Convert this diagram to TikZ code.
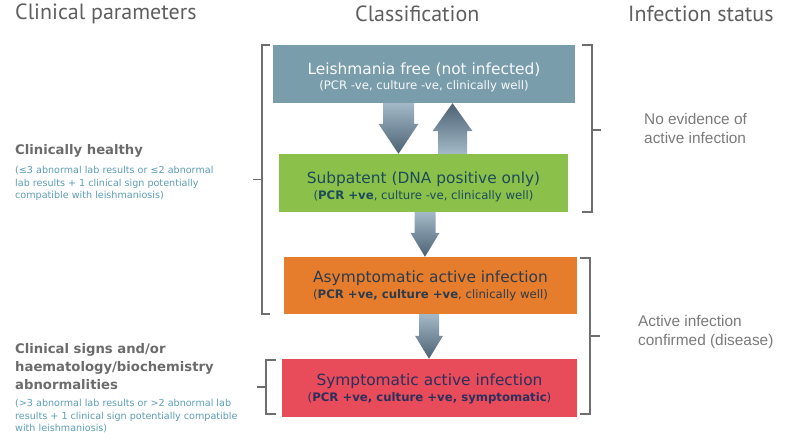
\documentclass[tikz,border=0pt]{standalone}
\usepackage{fontspec}
\setmainfont{DejaVu Sans}
\newfontfamily\headfont{PT Sans}
\newfontfamily\statusfont{Liberation Sans}
\usetikzlibrary{calc}

\definecolor{freeblue}{HTML}{7A9DAC}
\definecolor{subgreen}{HTML}{8BC14A}
\definecolor{asymorange}{HTML}{E67D2D}
\definecolor{symred}{HTML}{E84B5A}
\definecolor{subtext}{HTML}{1D4B5A}
\definecolor{asymtext}{HTML}{2E3B4A}
\definecolor{symtext}{HTML}{2C2F5C}
\definecolor{headgray}{HTML}{5F5F5F}
\definecolor{titlegray}{HTML}{6B6B6B}
\definecolor{noteblue}{HTML}{5B9DB8}
\definecolor{statusgray}{HTML}{7A7A7A}
\definecolor{bracketgray}{HTML}{6E6E6E}
\definecolor{arrowlight}{HTML}{A3B9C7}
\definecolor{arrowdark}{HTML}{4C6274}

\tikzset{
  classbox/.style={minimum height=58pt,inner sep=0pt,align=center},
  headtext/.style={inner sep=0pt,anchor=west,text=headgray,font=\headfont\fontsize{22}{24}\selectfont},
  paramtitle/.style={inner sep=0pt,anchor=north west,align=left,text=titlegray,font=\bfseries\fontsize{13.2}{18}\selectfont},
  paramnote/.style={inner sep=0pt,anchor=north west,align=left,text=noteblue,font=\fontsize{9.6}{12.3}\selectfont},
  statustext/.style={inner sep=0pt,anchor=west,align=left,text=statusgray,font=\statusfont\fontsize{15.4}{19}\selectfont},
  bracket/.style={bracketgray,line width=1.4pt},
  arrowdown/.style={top color=arrowlight,bottom color=arrowdark},
  arrowup/.style={top color=arrowdark,bottom color=arrowlight},
}

% Two-line text of a classification box (optional: strut height of the title).
\newcommand{\boxtext}[3][19pt]{{\fontsize{15.4}{17}\selectfont\rule{0pt}{#1}#2}\\[3pt]{\fontsize{11.7}{13}\selectfont #3}}

% Block arrow: style, start, tip, shaft half width, head half width, head length.
\newcommand{\blockarrow}[6]{%
  \shade[#1] let \p1=#2, \p2=#3, \p3=($(\p2)!#6!(\p1)$) in
    ($(\p1)!#4!90:(\p2)$) -- ($(\p3)!#4!90:(\p2)$) -- ($(\p3)!#5!90:(\p2)$) -- (\p2)
    -- ($(\p3)!#5!-90:(\p2)$) -- ($(\p3)!#4!-90:(\p2)$) -- ($(\p1)!#4!-90:(\p2)$) -- cycle;}

\begin{document}
\begin{tikzpicture}[x=1pt,y=-1pt]

        \useasboundingbox (0,0) rectangle (787,441);

        % --------
        % Headers.
        % --------

        \node[headtext] (hparam) at (15,14) {Clinical parameters};
        \node[headtext] (hclass) at (355,14) {Classification};
        \node[headtext] (hstatus) at (628,14) {Infection status};

        % -------------------
        % Classification boxes.
        % -------------------

        % Not infected.
        \node[classbox,fill=freeblue,minimum width=302pt,text=white!95!freeblue] (free) at (424,74)
            {\boxtext{Leishmania free (not infected)}{(PCR -ve, culture -ve, clinically well)}};

        % Subpatent.
        \node[classbox,fill=subgreen,minimum width=289pt,text=subtext] (sub) at (423.5,183)
            {\boxtext{Subpatent (DNA positive only)}{(\textbf{PCR +ve}, culture -ve, clinically well)}};

        % Asymptomatic.
        \node[classbox,fill=asymorange,minimum width=293pt,minimum height=57pt,text=asymtext] (asym) at (430.5,285.5)
            {\boxtext[13pt]{Asymptomatic active infection}{(\textbf{PCR +ve, culture +ve}, clinically well)}};

        % Symptomatic.
        \node[classbox,fill=symred,minimum width=295pt,text=symtext] (symp) at (429.5,388)
            {\boxtext[13pt]{Symptomatic active infection}{(\textbf{PCR +ve, culture +ve, symptomatic})}};

        % -------
        % Arrows.
        % -------

        \blockarrow{arrowdown}{($(free.south)+(-25.5,0)$)}{($(sub.north)+(-25,0)$)}{15.5pt}{20pt}{30pt}
        \blockarrow{arrowup}{($(sub.north)+(29,0)$)}{($(free.south)+(28.5,0)$)}{14.5pt}{20pt}{28pt}
        \blockarrow{arrowdown}{($(sub.south)+(1.5,0)$)}{($(asym.north)+(-5.5,0)$)}{10.5pt}{14.5pt}{24pt}
        \blockarrow{arrowdown}{($(asym.south)+(-1.5,0)$)}{($(symp.north)+(-0.5,0)$)}{10pt}{14pt}{23pt}

        % ---------
        % Brackets.
        % ---------

        % Clinically healthy.
        \draw[bracket] (270,45) -- (262,45) -- (262,314) -- (270,314);
        \draw[bracket] (262,179.5) -- (253,179.5);

        % Clinical signs.
        \draw[bracket] (276,360) -- (266,360) -- (266,414) -- (276,414);
        \draw[bracket] (266,387) -- (257,387);

        % No active infection.
        \draw[bracket] (582,45) -- (592,45) -- (592,212) -- (582,212);
        \draw[bracket] (592,130) -- (601,130);

        % Active infection.
        \draw[bracket] (580,258) -- (590,258) -- (590,414) -- (580,414);
        \draw[bracket] (590,336) -- (600,336);

        % ------------------
        % Clinical parameters.
        % ------------------

        \node[paramtitle] (healthy) at (15,144) {Clinically healthy};
        \node[paramnote] (healthynote) at (15,166.5)
            {(≤3 abnormal lab results or ≤2 abnormal\\lab results + 1 clinical sign potentially\\compatible with leishmaniosis)};

        \node[paramtitle] (signs) at (15,343) {Clinical signs and/or\\haematology/biochemistry\\abnormalities};
        \node[paramnote] (signsnote) at (15,399.5)
            {(>3 abnormal lab results or >2 abnormal lab\\results + 1 clinical sign potentially compatible\\with leishmaniosis)};

        % -----------------
        % Infection status.
        % -----------------

        \node[statustext] (noactive) at (644,128.5) {No evidence of\\active infection};
        \node[statustext] (active) at (638,332.5) {Active infection\\confirmed (disease)};

\end{tikzpicture}
\end{document}
